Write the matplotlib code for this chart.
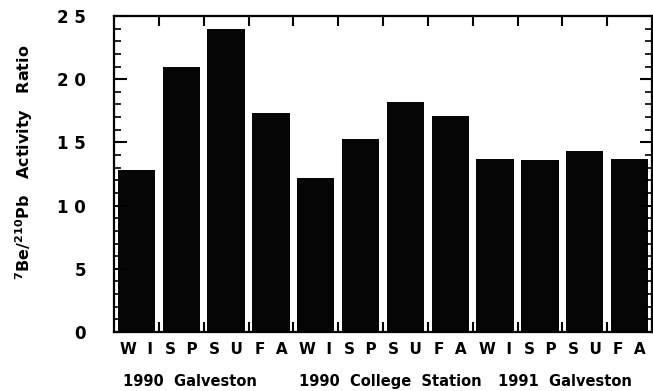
import matplotlib
matplotlib.use("Agg")
import matplotlib.pyplot as plt
from matplotlib.ticker import FixedLocator, MultipleLocator

seasons = ["W  I", "S  P", "S  U", "F  A"] * 3
ratios = [12.8, 21.0, 24.0, 17.3, 12.2, 15.3, 18.2, 17.1, 13.7, 13.6, 14.3, 13.7]
groups = ["1990  Galveston", "1990  College  Station", "1991  Galveston"]
yticks = [0, 5, 10, 15, 20, 25]
yticklabels = ["0", "5", "1 0", "1 5", "2 0", "2 5"]

fig = plt.figure(figsize=(6.53, 3.91), dpi=100)
ax = fig.add_axes([114/653, 59/391, 538/653, 316/391])

x = list(range(len(ratios)))
ax.bar([i + 0.5 for i in x], ratios, width=0.83, color="#050505", edgecolor="none")

ax.set_xlim(0, 12)
ax.set_ylim(0, 25)

for s in ax.spines.values():
    s.set_linewidth(1.6)
    s.set_color("black")

ax.yaxis.set_major_locator(FixedLocator(yticks))
ax.set_yticklabels(yticklabels, fontsize=12, fontweight="bold")
ax.yaxis.set_minor_locator(MultipleLocator(1))
ax.tick_params(axis="y", which="major", direction="in", length=9, width=1.5, pad=20, right=True)
ax.tick_params(axis="y", which="minor", direction="in", length=5, width=1.2, right=True)

ax.set_xticks([i + 0.5 for i in x])
ax.set_xticklabels(seasons, fontsize=11, fontweight="bold")
ax.tick_params(axis="x", which="major", length=0, pad=7)
ax.xaxis.set_minor_locator(FixedLocator(list(range(1, 12))))
ax.tick_params(axis="x", which="minor", direction="in", length=7, width=1.5, top=True, bottom=True)

fig.text(24/653, 1 - 162/391, r"$\mathbf{^7Be/^{210}Pb}$   Activity   Ratio",
         rotation=90, ha="center", va="center", fontsize=11.5, fontweight="bold")

group_x = [190, 390, 565]
for gx, g in zip(group_x, groups):
    fig.text(gx/653, 1 - 386/391, g, ha="center", va="baseline", fontsize=10.5, fontweight="bold")

fig.savefig("out.png", dpi=100)
